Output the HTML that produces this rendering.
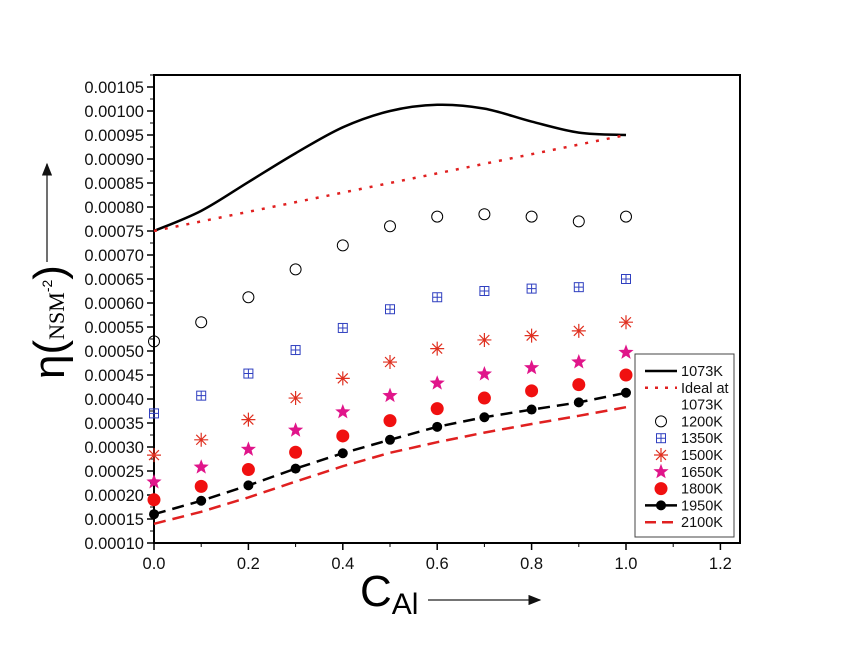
<!DOCTYPE html>
<html><head><meta charset="utf-8"><style>
body{margin:0;background:#fff;width:860px;height:651px;overflow:hidden}
svg text{font-family:"Liberation Sans",sans-serif}
</style></head><body>
<svg id="chart" width="860" height="651">
<defs><marker id="ah" markerWidth="10" markerHeight="8" refX="9" refY="4" orient="auto"><path d="M0,0L10,4L0,8z" fill="#111"/></marker></defs>
<g id="plot"></g>
<g id="labels">
<g transform="translate(64,322) rotate(-90)">
<text x="0" y="0" text-anchor="middle" font-size="44" font-family="Liberation Serif,serif">η(<tspan font-size="22" font-family="Liberation Serif,serif">NSM</tspan><tspan font-size="14" dy="-12">-2</tspan><tspan dy="12">)</tspan></text>
</g>
<line x1="47" y1="262" x2="47" y2="164" stroke="#222" stroke-width="1.3" marker-end="url(#ah)"/>
<text x="360" y="606" font-size="44">C<tspan font-size="30" dy="8">Al</tspan></text>
<line x1="428" y1="600" x2="540" y2="600" stroke="#222" stroke-width="1.3" marker-end="url(#ah)"/>
</g>
</svg>
<script>
const xs=[0,0.1,0.2,0.3,0.4,0.5,0.6,0.7,0.8,0.9,1.0];
const xTicks=["0.0","0.2","0.4","0.6","0.8","1.0","1.2"];
const yTicks=["0.00010","0.00015","0.00020","0.00025","0.00030","0.00035","0.00040","0.00045","0.00050","0.00055","0.00060","0.00065","0.00070","0.00075","0.00080","0.00085","0.00090","0.00095","0.00100","0.00105"];
const curve1073=[0.00075,0.000792,0.000852,0.000912,0.000966,0.001,0.001013,0.001005,0.000978,0.000955,0.00095];
const ideal1073=[0.00075,0.00095];
const s1200=[0.00052,0.00056,0.000612,0.00067,0.00072,0.00076,0.00078,0.000785,0.00078,0.00077,0.00078];
const s1350=[0.00037,0.000407,0.000453,0.000502,0.000548,0.000587,0.000612,0.000625,0.00063,0.000633,0.00065];
const s1500=[0.000283,0.000315,0.000357,0.000402,0.000443,0.000477,0.000505,0.000523,0.000532,0.000542,0.00056];
const s1650=[0.000227,0.000258,0.000295,0.000335,0.000373,0.000407,0.000433,0.000452,0.000465,0.000477,0.000497];
const s1800=[0.00019,0.000218,0.000253,0.000289,0.000323,0.000355,0.00038,0.000402,0.000417,0.00043,0.00045];
const s1950=[0.00016,0.000188,0.00022,0.000255,0.000287,0.000315,0.000342,0.000362,0.000378,0.000393,0.000413];
const s2100=[0.00014,0.000165,0.000195,0.000228,0.00026,0.000288,0.00031,0.00033,0.000348,0.000365,0.000383];

const NS="http://www.w3.org/2000/svg";
const X0=154,XS=472,Y0=543,YS=24/0.00005;
const sx=v=>X0+v*XS, sy=v=>Y0-(v-0.0001)*YS;
const g=document.getElementById('plot');
function mk(t,a,p){const e=document.createElementNS(NS,t);for(const k in a)e.setAttribute(k,a[k]);(p||g).appendChild(e);return e;}
function pathOf(vals,xv){return vals.map((v,i)=>(i?'L':'M')+sx(xv[i]).toFixed(1)+','+sy(v).toFixed(1)).join('');}
function smooth(vals){let d='M'+sx(xs[0])+','+sy(vals[0]);for(let i=0;i<vals.length-1;i++){const p0=i?i-1:i,p3=i+2<vals.length?i+2:i+1;
const x1=sx(xs[i])+(sx(xs[i+1])-sx(xs[p0]))/6,y1=sy(vals[i])+(sy(vals[i+1])-sy(vals[p0]))/6;
const x2=sx(xs[i+1])-(sx(xs[p3])-sx(xs[i]))/6,y2=sy(vals[i+1])-(sy(vals[p3])-sy(vals[i]))/6;
d+=`C${x1},${y1} ${x2},${y2} ${sx(xs[i+1])},${sy(vals[i+1])}`;}return d;}

let el=mk('rect',{x:X0,y:75,width:740-X0,height:Y0-75,fill:'none',stroke:'#000','stroke-width':2});


yTicks.forEach((t,i)=>{const v=parseFloat(t),y=sy(v);
 mk('line',{x1:X0-7,y1:y,x2:X0,y2:y,stroke:'#000','stroke-width':1.5});
 mk('line',{x1:X0-4,y1:y-12,x2:X0,y2:y-12,stroke:'#000','stroke-width':1});
 const tx=mk('text',{x:X0-10,y:y+6,'text-anchor':'end','font-size':16.5,fill:'#111'});tx.textContent=t;
 
 
});
xTicks.forEach((t,i)=>{const x=sx(parseFloat(t));
 mk('line',{x1:x,y1:Y0,x2:x,y2:Y0+7,stroke:'#000','stroke-width':1.5});
 if(i<xTicks.length-1)mk('line',{x1:x+XS*0.1,y1:Y0,x2:x+XS*0.1,y2:Y0+4,stroke:'#000','stroke-width':1});
 const tx=mk('text',{x:x,y:Y0+26,'text-anchor':'middle','font-size':16.5,fill:'#111'});tx.textContent=t;
 
 
});
el=mk('path',{d:smooth(curve1073),fill:'none',stroke:'#000','stroke-width':2.5});


el=mk('path',{d:pathOf(ideal1073,[0,1]),fill:'none',stroke:'#e02020','stroke-width':2.5,'stroke-dasharray':'3 8'});


el=mk('path',{d:pathOf(s2100,xs),fill:'none',stroke:'#e02020','stroke-width':2.5,'stroke-dasharray':'12 7'});


el=mk('path',{d:pathOf(s1950,xs),fill:'none',stroke:'#000','stroke-width':2.5,'stroke-dasharray':'12 7'});


function star(cx,cy,r,col,p){let d='';for(let k=0;k<10;k++){const rr=k%2?r*0.42:r,a=-Math.PI/2+k*Math.PI/5;d+=(k?'L':'M')+(cx+rr*Math.cos(a)).toFixed(1)+','+(cy+rr*Math.sin(a)).toFixed(1);}return mk('path',{d:d+'Z',fill:col},p);}
function marker(type,cx,cy,p){
 if(type==='circle')return mk('circle',{cx,cy,r:5.5,fill:'none',stroke:'#000','stroke-width':1},p);
 if(type==='sq'){const gg=mk('g',{stroke:'#3040c0','stroke-width':1,fill:'none'},p);mk('rect',{x:cx-4.5,y:cy-4.5,width:9,height:9},gg);mk('path',{d:`M${cx-4.5},${cy}H${cx+4.5}M${cx},${cy-4.5}V${cy+4.5}`},gg);return gg;}
 if(type==='ast'){let d='';for(let k=0;k<4;k++){const a=k*Math.PI/4;d+=`M${cx-7*Math.cos(a)},${cy-7*Math.sin(a)}L${cx+7*Math.cos(a)},${cy+7*Math.sin(a)}`;}return mk('path',{d,stroke:'#e03020','stroke-width':1.2},p);}
 if(type==='star')return star(cx,cy,8,'#e0158a',p);
 if(type==='red')return mk('circle',{cx,cy,r:6.5,fill:'#f01010'},p);
 if(type==='blk')return mk('circle',{cx,cy,r:5,fill:'#000'},p);
}
[[s1200,'circle','1200k'],[s1350,'sq','1350k'],[s1500,'ast','1500k'],[s1650,'star','1650k'],[s1800,'red','1800k'],[s1950,'blk','1950k']].forEach(([arr,t,n])=>{
 arr.forEach((v,i)=>{const m=marker(t,sx(xs[i]),sy(v));
  
  });
});
const L=mk('g',{});


mk('rect',{x:635,y:354,width:99,height:183,fill:'#fff',stroke:'#444','stroke-width':1},L);
const items=[['1073K','line'],['Ideal at','dot'],['1073K',''],['1200K','circle'],['1350K','sq'],['1500K','ast'],['1650K','star'],['1800K','red'],['1950K','blk'],['2100K','dash']];
items.forEach(([lab,t],i)=>{const y=371+i*16.8;
 const e=mk('g',{},L);
 
 
 if(t==='line')mk('line',{x1:645,y1:y,x2:677,y2:y,stroke:'#000','stroke-width':2.5},e);
 else if(t==='dot')mk('line',{x1:645,y1:y,x2:677,y2:y,stroke:'#e02020','stroke-width':2.5,'stroke-dasharray':'3 7'},e);
 else if(t==='dash')mk('line',{x1:645,y1:y,x2:677,y2:y,stroke:'#e02020','stroke-width':2.5,'stroke-dasharray':'11 6'},e);
 else if(t==='blk'){mk('line',{x1:645,y1:y,x2:677,y2:y,stroke:'#000','stroke-width':2.5},e);marker('blk',661,y,e);}
 else if(t)marker(t,661,y,e);
 const tx=mk('text',{x:681,y:y+5,'font-size':14.5,fill:'#111'},e);tx.textContent=lab;
});
</script>
</body></html>
